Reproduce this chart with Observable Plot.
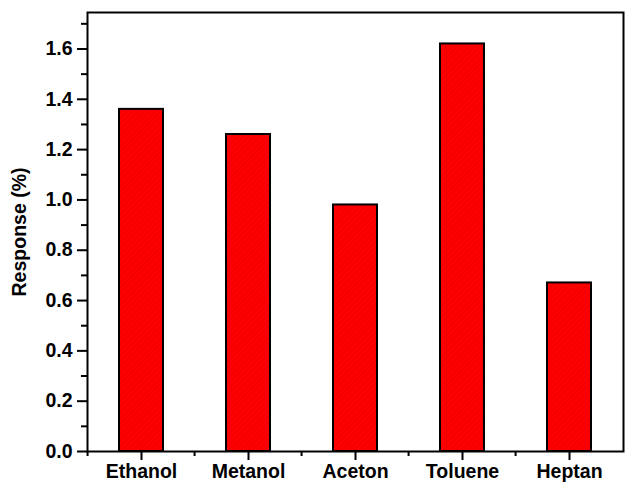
<!DOCTYPE html>
<html>
<head>
<meta charset="utf-8">
<script src="https://cdn.jsdelivr.net/npm/d3@7"></script>
<script src="https://cdn.jsdelivr.net/npm/@observablehq/plot@0.6"></script>
<style>
  html, body { margin: 0; padding: 0; background: #fff; }
  svg { font-family: "Liberation Sans", Arial, sans-serif; font-weight: bold; }
  svg text { font-size: 19.5px !important; font-weight: bold; fill: black; }
</style>
</head>
<body>
<div id="chart"></div>
<script>
const categories = ["Ethanol", "Metanol", "Aceton", "Toluene", "Heptan"];
const responses = [1.36, 1.26, 0.98, 1.62, 0.67];
const majorTicks = [0, 0.2, 0.4, 0.6, 0.8, 1.0, 1.2, 1.4, 1.6];
const minorTicks = [0.1, 0.3, 0.5, 0.7, 0.9, 1.1, 1.3, 1.5, 1.7];

const data = categories.map((c, i) => ({category: c, value: responses[i]}));

const W = 625, H = 484;
const ml = 87, mr = 2, mt = 12, mb = 33;
const padIn = 0.59, padOut = 0.28;
const step = (W - ml - mr) / (categories.length - padIn + 2 * padOut);

const plot = Plot.plot({
  width: W,
  height: H,
  marginLeft: ml,
  marginRight: mr,
  marginTop: mt,
  marginBottom: mb,
  style: {fontSize: "19.5px", fontFamily: "Liberation Sans, Arial, sans-serif", fontWeight: "bold", color: "black", background: "white"},
  x: {domain: categories, paddingInner: padIn, paddingOuter: padOut},
  y: {domain: [0, 1.745]},
  marks: [
    Plot.barY(data, {x: "category", y: "value", fill: "url(#hatch)", stroke: "black", strokeWidth: 2}),
    Plot.axisX({tickSize: 9, tickPadding: 4, strokeWidth: 2, label: null}),
    Plot.axisX({ticks: categories, tickSize: 5, text: null, strokeWidth: 2, dx: -step / 2, label: null}),
    Plot.axisY({ticks: majorTicks, tickSize: 10, tickPadding: 5, strokeWidth: 2, tickFormat: d3.format(".1f"),
      label: "Response (%)", labelAnchor: "center", labelArrow: "none", labelOffset: 75}),
    Plot.axisY({ticks: minorTicks, tickSize: 6, text: null, strokeWidth: 2, label: null}),
    Plot.frame({stroke: "black", strokeWidth: 2})
  ]
});

const ns = "http://www.w3.org/2000/svg";
const defs = document.createElementNS(ns, "defs");
defs.innerHTML = `<pattern id="hatch" patternUnits="userSpaceOnUse" width="4" height="4" patternTransform="rotate(45)">
  <rect width="4" height="4" fill="#ff0000"></rect>
  <line x1="0" y1="0" x2="0" y2="4" stroke="#d80000" stroke-width="1"></line>
</pattern>`;
plot.insertBefore(defs, plot.firstChild);

document.getElementById("chart").appendChild(plot);
</script>
</body>
</html>
